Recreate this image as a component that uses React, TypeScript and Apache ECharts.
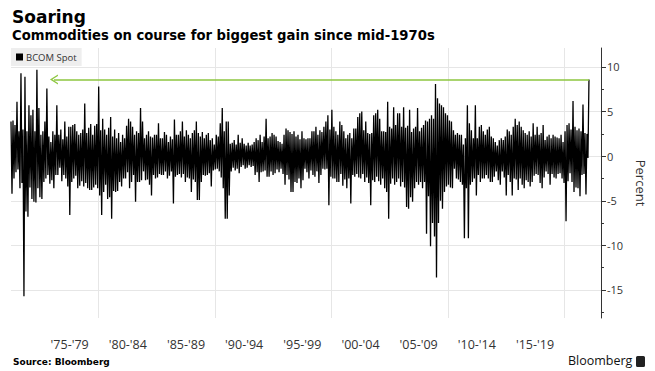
import React, { useEffect, useRef } from 'react';
import * as echarts from 'echarts';

const seriesName = 'BCOM Spot';
const titleText = 'Soaring';
const subtitleText = 'Commodities on course for biggest gain since mid-1970s';
const sourceText = 'Source: Bloomberg';
const brandText = 'Bloomberg';
const yAxisName = 'Percent';

const startYear = 1972.46;
const stepYears = 0.08565;

const values1970s = [
  3.9, -4.2, 4.0, -2.5, 3.5, -1.8, 6.1, -1.5, 2.8, -3.6, 9.3, -3.0, 3.0, -15.7, 8.9, -6.2,
  2.8, -6.8, 5.7, -3.5, 4.6, -4.8, 5.2, -5.1, 2.8, -5.2, 9.7, -3.6, 5.4, -4.6, 2.4, -4.8,
  2.8, -2.9, 3.9, -2.5, 7.6, -2.1, 2.2, -3.1, 1.6, -2.7, 2.8, -3.6, 2.4, -2.1, 5.7, -2.1,
  2.4, -1.3, 3.0, -2.8, 1.9, -2.1, 3.9, -2.5, 2.2, -3.4, 3.3, -6.6, 3.3, -2.9, 3.5, -2.5,
  3.6, -2.2, 2.8, -3.6, 2.4, -3.3, 2.6, -2.8, 3.0, -3.4, 5.9, -3.0, 2.6, -3.6, 3.2, -3.8,
  3.6, -3.8, 2.4, -3.5, 3.4, -3.2, 3.6, -3.6,
];

const values1980s = [
  7.8, -4.4, 2.9, -6.6, 4.2, -4.0, 3.0, -3.2, 2.4, -4.8, 3.2, -4.6, 4.4, -7.0, 2.2, -3.9,
  3.0, -4.0, 2.0, -3.9, 2.6, -2.9, 1.6, -3.4, 2.4, -2.5, 2.0, -2.5, 3.4, -1.8, 4.2, -3.6,
  3.9, -2.9, 3.3, -2.1, 2.4, -5.1, 2.8, -2.9, 2.6, -2.9, 5.4, -2.7, 3.9, -1.7, 2.0, -2.7,
  2.4, -2.6, 2.8, -3.2, 2.2, -4.4, 2.1, -2.1, 2.4, -2.5, 2.4, -2.4, 3.7, -2.0, 2.0, -2.1,
  2.0, -2.1, 2.7, -1.7, 2.4, -2.5, 1.6, -2.2, 2.2, -1.7, 1.9, -5.3, 4.1, -2.3, 2.4, -2.1,
  2.4, -2.0, 2.8, -2.4, 3.9, -2.0, 2.2, -2.9, 2.9, -2.4, 2.4, -2.5, 2.0, -4.0, 2.6, -2.6,
  2.9, -2.9, 3.9, -4.9, 2.6, -4.9, 2.2, -2.9, 2.7, -2.1, 2.0, -2.2, 2.4, -2.1, 2.6, -1.9,
  1.8, -3.4, 2.0, -1.6, 1.3, -1.5,
];

const values1990s = [
  2.4, -1.4, 2.2, -1.7, 3.7, -2.4, 5.4, -3.6, 2.8, -7.0, 3.9, -7.0, 3.9, -4.4, 1.4, -1.7,
  1.5, -1.3, 1.8, -1.6, 1.3, -1.4, 2.4, -1.9, 1.5, -1.2, 2.0, -1.0, 1.4, -1.4, 1.2, -1.3,
  1.5, -1.0, 1.2, -1.2, 1.3, -1.1, 1.6, -2.1, 2.0, -1.8, 1.8, -2.9, 2.4, -1.8, 1.6, -1.7,
  2.2, -1.6, 4.2, -2.3, 2.0, -2.3, 2.2, -1.7, 2.6, -2.1, 2.4, -1.9, 2.2, -1.5, 1.7, -1.8,
  1.6, -1.4, 1.4, -2.0, 2.4, -3.2, 3.1, -2.1, 2.9, -2.6, 2.7, -4.0, 2.5, -4.0, 2.8, -2.9,
  2.2, -3.0, 2.4, -2.5, 1.9, -3.6, 2.8, -2.7, 2.0, -1.4, 1.9, -1.8, 2.0, -2.5, 2.0, -1.6,
  2.8, -2.1, 2.8, -2.3, 3.3, -1.7, 2.4, -3.0, 2.9, -2.1, 2.7, -1.4, 3.3, -1.5, 3.9, -1.4,
  4.6, -5.5, 3.0, -2.3,
];

const values2000s = [
  5.2, -2.5, 3.3, -2.5, 2.8, -2.9, 2.4, -2.9, 3.9, -2.0, 3.5, -3.3, 2.8, -2.6, 2.0, -3.6,
  2.4, -2.5, 2.6, -5.3, 2.0, -2.1, 3.1, -2.3, 3.1, -2.0, 4.4, -2.4, 4.8, -2.5, 5.0, -2.0,
  2.9, -2.9, 3.9, -2.4, 2.6, -3.0, 2.5, -5.5, 2.6, -2.7, 4.6, -2.9, 4.8, -2.3, 5.2, -2.8,
  4.2, -3.2, 2.8, -2.5, 2.8, -3.6, 2.7, -4.0, 6.1, -7.0, 3.3, -3.1, 3.1, -2.5, 5.5, -3.2,
  3.5, -2.9, 4.8, -2.5, 4.8, -3.4, 3.3, -2.9, 5.5, -3.5, 3.2, -5.7, 3.4, -5.9, 5.2, -4.6,
  2.7, -5.1, 3.1, -3.6, 3.3, -2.9, 5.4, -3.2, 2.8, -2.9, 3.2, -3.6, 3.5, -2.9, 4.0, -8.7,
  3.9, -4.5, 4.2, -10.1, 4.6, -7.5, 4.2, -9.0, 8.1, -13.6, 6.5, -7.5, 5.9, -5.0, 5.7, -5.9,
  5.5, -4.0, 4.8, -3.4,
];

const values2010s = [
  4.6, -3.2, 4.0, -3.5, 3.9, -3.6, 2.9, -1.4, 2.4, -2.5, 2.6, -2.6, 2.4, -2.9, 2.4, -3.2,
  1.3, -9.2, 2.0, -3.6, 5.7, -9.2, 3.7, -3.2, 2.9, -2.9, 2.0, -2.5, 5.7, -4.4, 2.0, -2.1,
  3.3, -2.9, 3.5, -2.5, 2.8, -2.5, 2.4, -2.1, 3.0, -2.5, 3.3, -2.9, 2.2, -2.9, 2.0, -2.3,
  1.6, -1.7, 1.2, -2.7, 1.8, -3.2, 2.0, -1.7, 1.8, -2.4, 2.2, -4.4, 3.0, -2.1, 2.8, -2.9,
  2.4, -4.4, 3.3, -2.5, 4.2, -2.6, 3.5, -3.8, 3.9, -2.5, 3.3, -3.2, 2.9, -3.6, 2.6, -2.7,
  2.4, -2.9, 2.8, -3.4, 2.2, -2.9, 3.7, -2.2, 2.4, -2.0, 3.3, -2.1, 2.4, -3.0, 2.6, -3.6,
  3.5, -2.4, 1.8, -1.7, 2.2, -2.0, 2.4, -3.2, 2.0, -2.0, 2.4, -2.4, 2.2, -2.5, 2.1, -2.0,
  2.0, -1.9, 2.4, -2.5, 1.6, -3.0,
];

const values2020s = [
  2.8, -7.3, 3.5, -2.8, 3.7, -1.9, 3.0, -2.9, 6.2, -4.0, 3.3, -3.5, 2.9, -3.6, 3.1, -4.5,
  2.8, -2.1, 5.8, -2.0, 2.6, -4.3, 2.5, -0.2, 8.6,
];

const yMin = -18.14;
const yMax = 12.13;
const yMajorTicks = [-15, -10, -5, 0, 5, 10];
const yMinorTicks = [-17.5, -12.5, -7.5, -2.5, 2.5, 7.5];
const xMin = 1972.46;
const xMax = 2023.17;
const xGridYears = [1980, 1990, 2000, 2010, 2020];
const xLabelYears = [1977.5, 1982.5, 1987.5, 1992.5, 1997.5, 2002.5, 2007.5, 2012.5, 2017.5];
const xTickLabels = ["'75-'79", "'80-'84", "'85-'89", "'90-'94", "'95-'99", "'00-'04", "'05-'09", "'10-'14", "'15-'19"];
const arrowTailYear = 1976.15;

const chevron = 'path://M0,10 L5,0 L10,10 L8.5,10 L5,3 L1.5,10 Z';

export default function App() {
  const ref = useRef<HTMLDivElement>(null);
  useEffect(() => {
    const chart = echarts.init(ref.current as HTMLDivElement, null, { renderer: 'svg' });
    const values = [
      ...values1970s,
      ...values1980s,
      ...values1990s,
      ...values2000s,
      ...values2010s,
      ...values2020s,
    ];
    const data = values.map((v, i) => [startYear + i * stepYears, v]);
    const last = data[data.length - 1];
    const gridColor = '#e6e6e6';
    const font = 'Open Sans';
    chart.setOption({
      animation: false,
      backgroundColor: '#ffffff',
      grid: { left: 11, right: 52, top: 48, bottom: 53, containLabel: false },
      legend: {
        data: [{ name: seriesName, icon: 'rect' }],
        left: 11,
        top: 48,
        selectedMode: false,
        backgroundColor: '#eeeeee',
        padding: [4, 5, 4, 5],
        itemWidth: 7,
        itemHeight: 7,
        itemGap: 4,
        textStyle: { fontFamily: font, fontSize: 9.5, color: '#333333', padding: [0, 0, 0, -2] },
      },
      xAxis: {
        type: 'value',
        min: xMin,
        max: xMax,
        axisLine: { show: false },
        axisTick: { show: false, customValues: xGridYears },
        splitLine: { show: true, lineStyle: { color: gridColor, width: 1 } },
        axisLabel: {
          customValues: xLabelYears,
          margin: 20,
          fontFamily: font,
          fontSize: 12.5,
          color: '#333333',
          formatter: (v: number) => {
            const k = xLabelYears.findIndex((y) => Math.abs(y - v) < 0.01);
            return k >= 0 ? xTickLabels[k] : '';
          },
        },
      },
      yAxis: [
        {
          type: 'value',
          position: 'right',
          min: yMin,
          max: yMax,
          name: yAxisName,
          nameLocation: 'middle',
          nameRotate: -90,
          nameGap: 28,
          nameTextStyle: { fontFamily: font, fontSize: 13, color: '#333333' },
          axisLine: { show: true, lineStyle: { color: '#333333', width: 1 } },
          axisTick: { show: true, length: 5, customValues: yMajorTicks, lineStyle: { color: '#333333' } },
          axisLabel: { customValues: yMajorTicks, margin: 6, fontFamily: font, fontSize: 11, color: '#333333' },
          splitLine: { show: true, lineStyle: { color: gridColor, width: 1 } },
        },
        {
          type: 'value',
          position: 'right',
          min: yMin,
          max: yMax,
          axisLine: { show: false },
          axisTick: { show: true, length: 3, customValues: yMinorTicks, lineStyle: { color: '#333333' } },
          axisLabel: { show: false },
          splitLine: { show: false },
        },
      ],
      series: [
        {
          name: seriesName,
          type: 'line',
          data,
          yAxisIndex: 0,
          symbol: 'none',
          silent: true,
          color: '#000000',
          lineStyle: { color: '#000000', width: 1.3, join: 'bevel' },
          markLine: {
            silent: true,
            label: { show: false },
            lineStyle: { color: '#8dc63f', width: 1.5, type: 'solid' },
            emphasis: { disabled: true },
            data: [
              [
                { coord: [last[0], last[1]], symbol: 'none' },
                { coord: [arrowTailYear, last[1]], symbol: chevron, symbolSize: [10, 8] },
              ],
            ],
          },
        },
      ],
      graphic: [
        {
          type: 'text',
          left: 12,
          top: 8,
          style: { text: titleText, fontFamily: 'DejaVu Sans', fontWeight: 'bold', fontSize: 17, fill: '#000000' },
        },
        {
          type: 'text',
          left: 12,
          top: 29,
          style: { text: subtitleText, fontFamily: 'DejaVu Sans', fontWeight: 'bold', fontSize: 13.2, fill: '#000000' },
        },
        {
          type: 'text',
          left: 13,
          top: 357,
          style: { text: sourceText, fontFamily: 'DejaVu Sans', fontWeight: 'bold', fontSize: 9, fill: '#000000' },
        },
        {
          type: 'text',
          left: 568,
          top: 354,
          style: { text: brandText, fontFamily: font, fontSize: 12.5, fill: '#111111' },
        },
        {
          type: 'rect',
          left: 636,
          top: 356,
          shape: { width: 9, height: 11, r: 1.5 },
          style: { fill: '#222222' },
        },
      ],
    });
    return () => chart.dispose();
  }, []);
  return <div ref={ref} style={{ position: 'fixed', left: 0, top: 0, width: 655, height: 371 }} />;
}
